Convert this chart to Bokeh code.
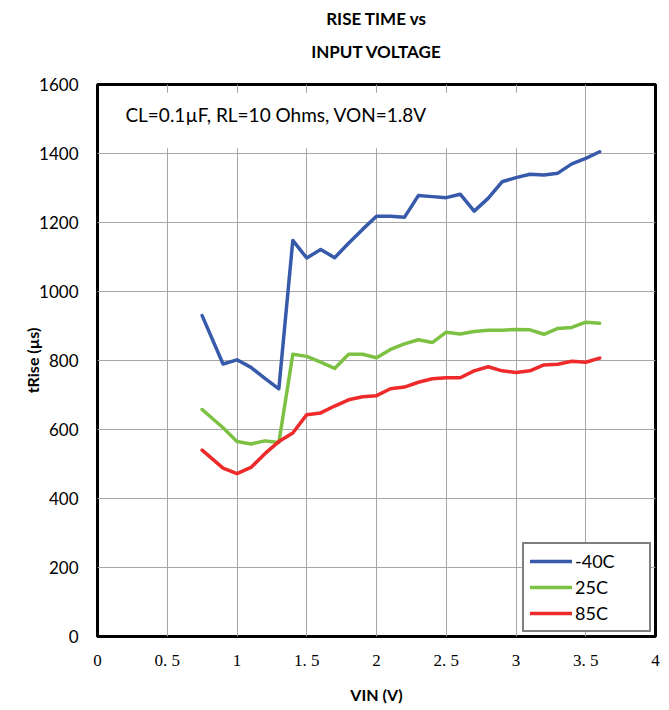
from bokeh.plotting import figure
from bokeh.models import (FixedTicker, Range1d, Label, BoxAnnotation, Legend, LegendItem, Title)
from bokeh.embed import file_html
from bokeh.resources import INLINE

# ---- data ----
vin = [0.75, 0.9, 1.0, 1.1, 1.2, 1.3, 1.4, 1.5, 1.6, 1.7, 1.8, 1.9, 2.0, 2.1, 2.2,
       2.3, 2.4, 2.5, 2.6, 2.7, 2.8, 2.9, 3.0, 3.1, 3.2, 3.3, 3.4, 3.5, 3.6]
t_m40 = [930, 790, 802, 780, 748, 718, 1148, 1097, 1122, 1098, 1140, 1180, 1218, 1218, 1215,
         1278, 1275, 1272, 1282, 1233, 1270, 1318, 1330, 1340, 1338, 1343, 1370, 1386, 1405]
t_25 = [658, 605, 565, 558, 567, 562, 818, 812, 795, 777, 818, 818, 808, 832, 848,
        860, 852, 882, 877, 884, 888, 888, 890, 889, 876, 893, 896, 911, 908]
t_85 = [540, 488, 472, 490, 530, 565, 590, 643, 648, 668, 686, 695, 698, 718, 723,
        737, 747, 750, 750, 770, 782, 770, 765, 770, 787, 789, 798, 795, 807]
series_names = ["-40C", "25C", "85C"]
series_colors = ["#375AAA", "#7DC143", "#EE2A2A"]

x_ticks = [0, 0.5, 1, 1.5, 2, 2.5, 3, 3.5, 4]
x_tick_labels = ["0", "0. 5", "1", "1. 5", "2", "2. 5", "3", "3. 5", "4"]
y_ticks = [0, 200, 400, 600, 800, 1000, 1200, 1400, 1600]

title_lines = ["RISE TIME vs", "INPUT VOLTAGE"]
note = "CL=0.1\u00b5F, RL=10 Ohms, VON=1.8V"

# ---- figure ----
p = figure(width=669, height=706, output_backend="svg", toolbar_location=None,
           x_range=Range1d(0, 4), y_range=Range1d(0, 1600),
           min_border_left=97, min_border_right=14, min_border_top=82, min_border_bottom=70)
p.background_fill_color = "white"
p.border_fill_color = "white"
p.outline_line_color = "black"
p.outline_line_width = 3

p.xaxis.ticker = FixedTicker(ticks=x_ticks)
p.xaxis.major_label_overrides = {t: l for t, l in zip(x_ticks, x_tick_labels)}
p.yaxis.ticker = FixedTicker(ticks=y_ticks)

for ax in (p.xaxis[0], p.yaxis[0]):
    ax.axis_line_color = None
    ax.major_tick_line_color = None
    ax.minor_tick_line_color = None
    ax.major_tick_out = 0
    ax.major_tick_in = 0
    ax.major_label_text_color = "black"
    ax.axis_label_text_color = "black"
    ax.axis_label_text_font_style = "bold"
    ax.axis_label_text_font = "Lato"
    ax.axis_label_text_font_size = "16px"

p.xaxis.major_label_text_font = "Liberation Serif"
p.xaxis.major_label_text_font_size = "17px"
p.xaxis.major_label_standoff = 14
p.xaxis.axis_label = "VIN (V)"
p.xaxis.axis_label_standoff = 12

p.yaxis.major_label_text_font = "Lato"
p.yaxis.major_label_text_font_size = "17px"
p.yaxis.major_label_standoff = 19
p.yaxis.axis_label = "tRise (\u00b5s)"
p.yaxis.axis_label_standoff = -6

p.grid.grid_line_color = "#A6A6A6"
p.grid.grid_line_width = 1
p.xgrid.ticker = FixedTicker(ticks=x_ticks)
p.ygrid.ticker = FixedTicker(ticks=y_ticks)

# white panel behind the condition note
p.add_layout(BoxAnnotation(left=0.02, right=3.3, bottom=1415, top=1576,
                           fill_color="white", fill_alpha=1.0, line_color=None,
                           level="underlay"))

renderers = []
for ys, c in zip([t_m40, t_25, t_85], series_colors):
    r = p.line(vin, ys, line_color=c, line_width=3.5, line_join="round", line_cap="round")
    renderers.append(r)

legend = Legend(items=[LegendItem(label=n, renderers=[r]) for n, r in zip(series_names, renderers)],
                location="bottom_right")
legend.border_line_color = "black"
legend.border_line_width = 2
legend.background_fill_color = "white"
legend.background_fill_alpha = 1.0
legend.label_text_font = "Lato"
legend.label_text_font_size = "18px"
legend.label_text_color = "black"
legend.glyph_width = 42
legend.glyph_height = 18
legend.label_height = 18
legend.label_width = 68
legend.label_standoff = 3
legend.spacing = 4
legend.padding = 6
legend.margin = 4
p.add_layout(legend)

# note
p.add_layout(Label(x=0.2, y=1513, text=note, text_font="Lato", text_font_size="19px",
                   text_baseline="middle", text_align="left", text_color="black"))

# title (two lines, above the frame); first added sits nearest the frame
p.add_layout(Title(text=" ", text_font_size="6px"), "above")
for txt in reversed(title_lines):
    p.add_layout(Title(text=txt, text_font="Lato", text_font_size="17px",
                       text_font_style="bold", align="center", offset=12,
                       text_color="black"), "above")

open("out.html", "w").write(file_html(p, INLINE))
